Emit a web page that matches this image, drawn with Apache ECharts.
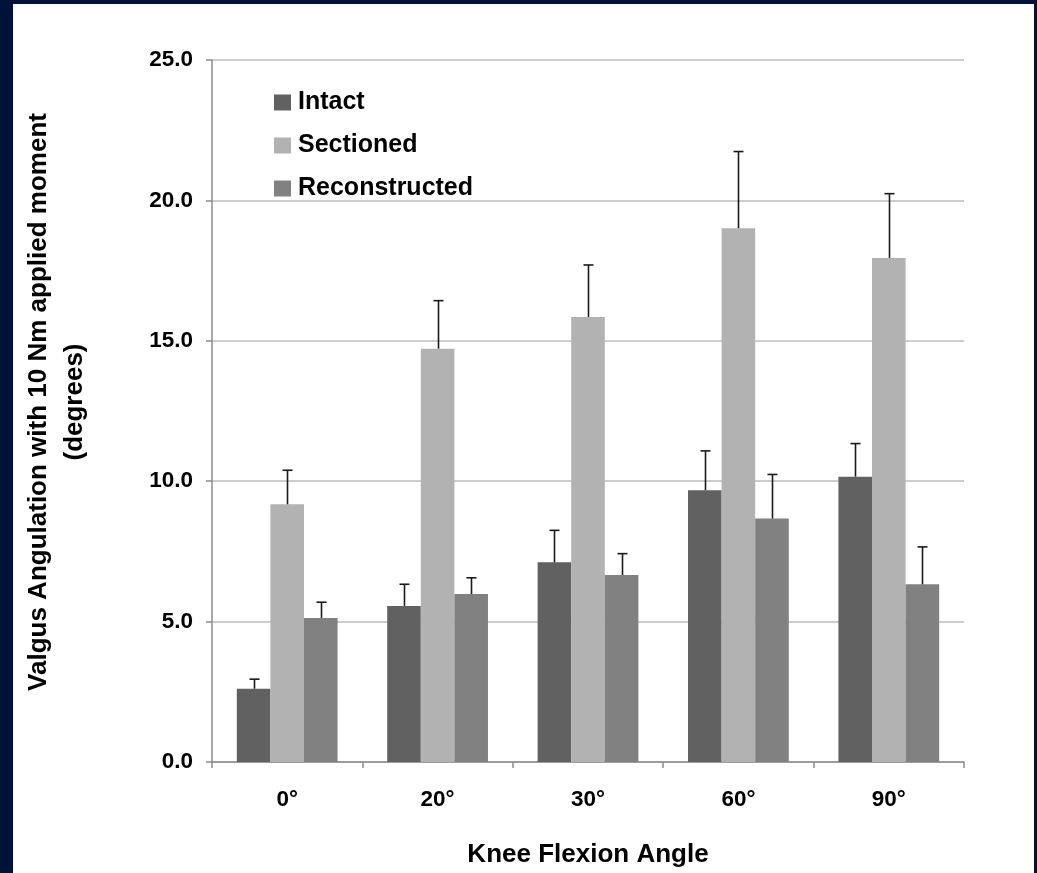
<!DOCTYPE html>
<html>
<head>
<meta charset="utf-8">
<script src="https://cdn.jsdelivr.net/npm/echarts@6/dist/echarts.min.js"></script>
<style>
  html, body { margin: 0; padding: 0; width: 1037px; height: 873px; background: #001238; overflow: hidden; }
  #wrap { position: absolute; left: 13px; top: 4px; width: 1021px; height: 869px; background: #ffffff; }
  #chart { width: 1021px; height: 869px; }
</style>
</head>
<body>
<div id="wrap"><div id="chart"></div></div>
<script>
// ---- data ----
var categories = ['0°', '20°', '30°', '60°', '90°'];
var seriesNames = ['Intact', 'Sectioned', 'Reconstructed'];
var intactValues = [2.61, 5.56, 7.11, 9.68, 10.16];
var intactSD = [0.34, 0.77, 1.14, 1.40, 1.18];
var sectionedValues = [9.18, 14.72, 15.85, 19.01, 17.95];
var sectionedSD = [1.21, 1.71, 1.85, 2.73, 2.29];
var reconstructedValues = [5.13, 5.98, 6.66, 8.67, 6.33];
var reconstructedSD = [0.56, 0.58, 0.76, 1.57, 1.33];
var yTicks = [0, 5, 10, 15, 20, 25];

var FONT = 'Liberation Sans, Arial, sans-serif';
var colors = ['#616161', '#b2b2b2', '#818181'];
var CAT_GAP = 0.33;
var valueSets = [intactValues, sectionedValues, reconstructedValues];
var sdSets = [intactSD, sectionedSD, reconstructedSD];

function errorSeries(k) {
  var data = valueSets[k].map(function (v, i) { return [i, v, v + sdSets[k][i]]; });
  return {
    type: 'custom',
    name: seriesNames[k] + ' error',
    data: data,
    z: 10,
    silent: true,
    clip: false,
    renderItem: function (params, api) {
      var ci = api.value(0);
      var base = api.coord([ci, api.value(1)]);
      var top = api.coord([ci, api.value(2)]);
      var band = api.size([1, 0])[0];
      var bw = band * (1 - CAT_GAP) / 3;
      var x = Math.round(base[0] + (k - 1) * bw) + 0.5;
      var style = { stroke: '#1a1a1a', lineWidth: 1.6 };
      return {
        type: 'group',
        children: [
          { type: 'line', shape: { x1: x, y1: base[1], x2: x, y2: top[1] }, style: style },
          { type: 'line', shape: { x1: x - 5, y1: top[1], x2: x + 5, y2: top[1] }, style: style }
        ]
      };
    }
  };
}

var barSeries = seriesNames.map(function (n, k) {
  return {
    type: 'bar',
    name: n,
    data: valueSets[k],
    barGap: '0%',
    barCategoryGap: (CAT_GAP * 100) + '%',
    itemStyle: { color: colors[k] }
  };
});

var chart = echarts.init(document.getElementById('chart'), null, { renderer: 'canvas' });
chart.setOption({
  animation: false,
  backgroundColor: '#ffffff',
  color: colors,
  grid: { left: 193, right: 70, top: 56, bottom: 110, containLabel: false },
  legend: {
    data: seriesNames,
    orient: 'vertical',
    left: 256,
    top: 81,
    itemWidth: 17,
    itemHeight: 16,
    itemGap: 18,
    icon: 'rect',
    textStyle: { fontFamily: FONT, fontWeight: 'bold', fontSize: 25, color: '#000', lineHeight: 24, padding: [0, 0, 0, 2] }
  },
  xAxis: {
    type: 'category',
    data: categories,
    name: 'Knee Flexion Angle',
    nameLocation: 'middle',
    nameGap: 80,
    nameTextStyle: { fontFamily: FONT, fontWeight: 'bold', fontSize: 26, color: '#000' },
    axisLine: { show: true, lineStyle: { color: '#8c8c8c', width: 1.5 } },
    axisTick: { show: true, length: 6, alignWithLabel: false, lineStyle: { color: '#8c8c8c', width: 1.5 } },
    axisLabel: { margin: 26, fontFamily: FONT, fontWeight: 'bold', fontSize: 22.5, color: '#000' }
  },
  yAxis: {
    type: 'value',
    min: yTicks[0],
    max: yTicks[yTicks.length - 1],
    interval: yTicks[1] - yTicks[0],
    name: 'Valgus Angulation with 10 Nm applied moment\n(degrees)',
    nameLocation: 'middle',
    nameRotate: 90,
    nameGap: 119,
    nameTextStyle: { fontFamily: FONT, fontWeight: 'bold', fontSize: 26, color: '#000', lineHeight: 36, align: 'center', padding: [0, 0, 0, 18] },
    axisLine: { show: true, lineStyle: { color: '#8c8c8c', width: 1.5 } },
    axisTick: { show: true, length: 6, lineStyle: { color: '#8c8c8c', width: 1.5 } },
    splitLine: { show: true, lineStyle: { color: '#bdbdbd', width: 1.5 } },
    axisLabel: {
      margin: 19,
      fontFamily: FONT, fontWeight: 'bold', fontSize: 22.5, color: '#000',
      formatter: function (v) { return v.toFixed(1); }
    }
  },
  series: barSeries.concat([errorSeries(0), errorSeries(1), errorSeries(2)])
});
</script>
</body>
</html>
